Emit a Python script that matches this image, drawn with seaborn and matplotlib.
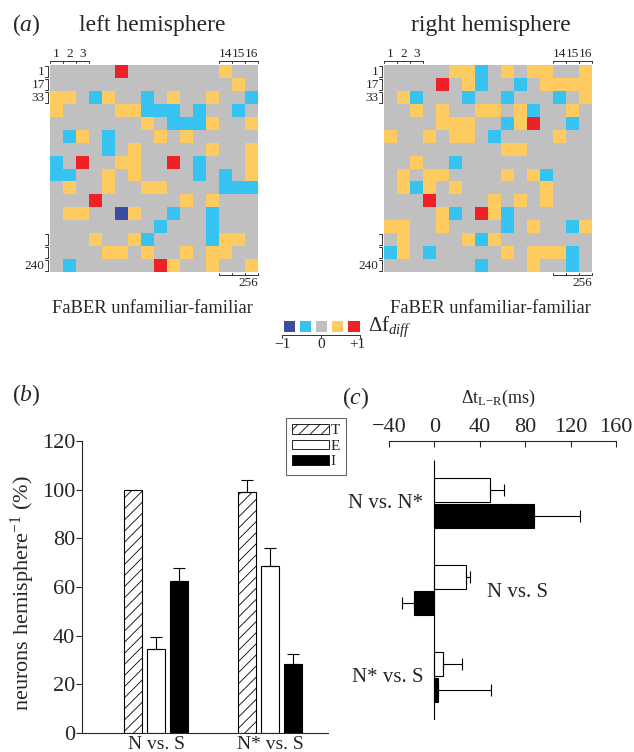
import numpy as np
import pandas as pd
import matplotlib
matplotlib.use('Agg')
import matplotlib.pyplot as plt
from matplotlib.colors import ListedColormap
from matplotlib.patches import Patch
import seaborn as sns

# (a) cell codes: -2 dark blue, -1 light blue, 0 grey, 1 yellow, 2 red
left_grid = [
    [0, 0, 0, 0, 0, 2, 0, 0, 0, 0, 0, 0, 0, 1, 0, 0],
    [0, 0, 0, 0, 0, 0, 0, 0, 0, 0, 0, 0, 0, 0, 1, 0],
    [1, 1, 0, -1, 1, 0, 0, -1, 0, 1, 0, 0, 1, 0, 0, -1],
    [1, 0, 0, 0, 0, 1, 1, -1, -1, -1, 0, -1, 0, 0, -1, 0],
    [0, 0, 0, 0, 0, 0, 0, 1, 0, -1, -1, -1, 1, 0, 0, 1],
    [0, -1, 1, 0, -1, 0, 0, 0, 1, 0, 1, 0, 0, 0, 0, 0],
    [0, 0, 0, 0, -1, 0, 1, 0, 0, 0, 0, 0, 1, 0, 0, 1],
    [-1, 0, 2, 0, 0, 1, 1, 0, 0, 2, 0, -1, 0, 0, 0, 1],
    [-1, -1, 0, 0, 1, 0, 1, 0, 0, 0, 0, -1, 0, -1, 0, 1],
    [0, 1, 0, 0, 1, 0, 0, 1, 1, 0, 0, 0, 0, -1, -1, -1],
    [0, 0, 0, 2, 0, 0, 0, 0, 0, 0, 1, 0, 1, 0, 0, 0],
    [0, 1, 1, 0, 0, -2, 1, 0, 0, -1, 0, 0, -1, 0, 0, 0],
    [0, 0, 0, 0, 0, 0, 0, 0, -1, 0, 0, 0, -1, 0, 0, 0],
    [0, 0, 0, 1, 0, 0, 1, -1, 0, 0, 0, 0, -1, 1, 1, 0],
    [0, 0, 0, 0, 1, 1, 0, 1, 0, 0, 1, 0, 1, 1, 0, 0],
    [0, -1, 0, 0, 0, 0, 0, 0, 2, 1, 0, 0, 1, 0, 0, 1],
]
right_grid = [
    [0, 0, 0, 0, 0, 1, 1, -1, 0, 1, 0, 1, 1, 0, 0, 1],
    [0, 0, 0, 0, 2, 0, 1, -1, 0, 0, -1, 0, 1, 1, 1, 1],
    [0, 1, -1, 0, 0, 0, -1, 0, 0, -1, 0, 0, 0, -1, 0, 1],
    [0, 0, 1, 0, 1, 0, 0, 1, 1, 0, 1, -1, 0, 0, 1, 0],
    [0, 0, 0, 0, 1, 1, 1, 0, 0, -1, 1, 2, 0, 0, -1, 0],
    [1, 0, 0, 1, 0, 1, 1, 0, -1, 0, 0, 0, 0, 1, 0, 0],
    [0, 0, 0, 0, 0, 0, 0, 0, 0, 1, 1, 0, 0, 0, 0, 0],
    [0, 0, 1, 0, 0, -1, 0, 0, 0, 0, 0, 0, 0, 0, 0, 0],
    [0, 1, 0, 1, 1, 0, 0, 0, 0, 1, 0, 1, -1, 0, 0, 0],
    [0, 1, -1, 1, 0, 1, 0, 0, 0, 0, 0, 0, 1, 0, 0, 0],
    [0, 0, 0, 2, 0, 0, 0, 0, 1, 0, 1, 0, 1, 0, 0, 0],
    [0, 0, 0, 0, 1, -1, 0, 2, 1, -1, 0, 0, 0, 0, 0, 0],
    [1, 1, 0, 0, 1, 0, 0, 0, 0, -1, 0, 1, 0, 0, -1, 1],
    [0, 1, 0, 0, 0, 0, 1, -1, 1, 0, 0, 0, 0, 0, 0, 0],
    [-1, 1, 0, -1, 0, 0, 0, 0, 0, 1, 0, 1, 1, 1, -1, 0],
    [0, 0, 0, 0, 0, 0, 0, -1, 0, 0, 0, 1, 0, 0, -1, 0],
]
cell_colors = ['#3a4d9f', '#36c3f1', '#c0c0c0', '#fdcb5f', '#ec2227']
scale_codes = [-2, -1, 0, 1, 2]

# (b) percentage of neurons per hemisphere
comparisons_b = ['N vs. S', 'N* vs. S']
types_b = ['T', 'E', 'I']
pct_T = [100, 99]
pct_E = [34.5, 68.5]
pct_I = [62.5, 28.5]
err_T = [0, 4.8]
err_E = [5, 7.5]
err_I = [5.5, 4]

# (c) left-right time difference (ms)
comparisons_c = ['N vs. N*', 'N vs. S', 'N* vs. S']
dt_E = [49, 27.5, 7.5]
dt_I = [88, -18, 3]
err_dt_E = [12.5, 4, 17]
err_dt_I = [40, 10.5, 47]

sns.set_style('ticks')
plt.rcParams['font.family'] = ['Liberation Serif', 'DejaVu Serif']
plt.rcParams['mathtext.fontset'] = 'custom'
plt.rcParams['mathtext.rm'] = 'Liberation Serif'
plt.rcParams['mathtext.it'] = 'Liberation Serif:italic'
plt.rcParams['hatch.linewidth'] = 0.6

W, H = 634, 752
fig = plt.figure(figsize=(W / 100, H / 100), dpi=100)


def px_axes(x0, y0, x1, y1):
    return fig.add_axes([x0 / W, 1 - y1 / H, (x1 - x0) / W, (y1 - y0) / H])


def ftext(x, y, s, **kw):
    fig.text(x / W, 1 - y / H, s, **kw)


cmap = ListedColormap(cell_colors)


def draw_grid(ax, grid):
    sns.heatmap(np.array(grid), cmap=cmap, vmin=-2.5, vmax=2.5, cbar=False,
                xticklabels=False, yticklabels=False, ax=ax)
    kw = dict(color='0.2', lw=0.7, clip_on=False)
    # column rulers on top
    for c0, labels in [(0, ['1', '2', '3']), (13, ['14', '15', '16'])]:
        ax.plot([c0, c0 + 3], [-0.3, -0.3], **kw)
        for k in range(4):
            ax.plot([c0 + k] * 2, [-0.3, -0.12], **kw)
        for k, lab in enumerate(labels):
            ax.text(c0 + k + 0.5, -0.35, lab, ha='center', va='bottom', fontsize=9.5)
    # row brackets on the left
    for r, lab in [(0, '1'), (1, '17'), (2, '33'), (13, ''), (14, ''), (15, '240')]:
        ax.plot([-0.35, -0.12, -0.12, -0.35], [r + 0.06, r + 0.06, r + 0.94, r + 0.94], **kw)
        ax.text(-0.4, r + 0.55, lab, ha='right', va='center', fontsize=9.5)
    # bottom ruler
    ax.plot([13, 16], [16.25, 16.25], **kw)
    for k in range(4):
        ax.plot([13 + k] * 2, [16.07, 16.25], **kw)
    ax.text(16.05, 16.4, '256', ha='right', va='top', fontsize=9.5)


ax_l = px_axes(50, 65, 258, 272)
draw_grid(ax_l, left_grid)
ax_r = px_axes(384, 65, 592, 272)
draw_grid(ax_r, right_grid)

ftext(12, 25, r'($a$)', fontsize=17, va='center', ha='left')
ftext(152, 25, 'left hemisphere', fontsize=17, va='center', ha='center')
ftext(491, 25, 'right hemisphere', fontsize=17, va='center', ha='center')
ftext(152, 309, 'FaBER unfamiliar-familiar', fontsize=13.3, va='center', ha='center')
ftext(490, 309, 'FaBER unfamiliar-familiar', fontsize=13.3, va='center', ha='center')

# colour scale
ax_s = px_axes(280.5, 317.5, 361.5, 333.5)
sns.heatmap(np.array([scale_codes]), cmap=cmap, vmin=-2.5, vmax=2.5, cbar=False,
            xticklabels=False, yticklabels=False, linewidths=2.2, linecolor='white', ax=ax_s)
kw = dict(color='0.2', lw=0.7, clip_on=False)
ax_s.plot([0.1, 4.9], [1.08, 1.08], **kw)
for xx in [0.1, 2.5, 4.9]:
    ax_s.plot([xx, xx], [1.08, 1.3], **kw)
ax_s.text(0.1, 1.3, '\u22121', ha='center', va='top', fontsize=11)
ax_s.text(2.5, 1.3, '0', ha='center', va='top', fontsize=11)
ax_s.text(4.75, 1.3, '+1', ha='center', va='top', fontsize=11)
ftext(368, 327, r'$\Delta\mathrm{f}_{diff}$', fontsize=15, va='center', ha='left')

# (b)
ax_b = px_axes(82, 441, 328, 733)
df_b = pd.DataFrame({'comparison': comparisons_b * 3,
                     'type': np.repeat(types_b, 2),
                     'pct': pct_T + pct_E + pct_I})
sns.barplot(df_b, x='comparison', y='pct', hue='type', hue_order=types_b,
            order=comparisons_b, palette=['white', 'white', 'black'],
            edgecolor='black', linewidth=0.8, width=0.6, gap=0.21,
            legend=False, ax=ax_b)
for bar in ax_b.containers[0]:
    bar.set_hatch('///')
for cont, errs in zip(ax_b.containers, [err_T, err_E, err_I]):
    for bar, e in zip(cont, errs):
        if e > 0:
            ax_b.errorbar(bar.get_x() + bar.get_width() / 2, bar.get_height(),
                          yerr=[[0], [e]], fmt='none', ecolor='black',
                          elinewidth=0.8, capsize=4, capthick=0.8)
ax_b.set_xlim(-0.65, 1.51)
ax_b.set_ylim(0, 120)
ax_b.set_yticks(range(0, 121, 20))
sns.despine(ax=ax_b)
ax_b.tick_params(axis='y', labelsize=16, length=4, width=0.8, pad=1)
ax_b.tick_params(axis='x', labelsize=14, length=0, pad=2)
ax_b.set_xlabel('')
ax_b.set_ylabel('neurons hemisphere$^{-1}$ (%)', fontsize=16)
ax_b.yaxis.set_label_coords(-0.183, 0.48)
for sp in ax_b.spines.values():
    sp.set_linewidth(0.8)

handles = [Patch(facecolor='white', edgecolor='black', hatch='///', lw=0.6),
           Patch(facecolor='white', edgecolor='black', lw=0.6),
           Patch(facecolor='black', edgecolor='black', lw=0.6)]
leg = fig.legend(handles, types_b, loc='upper right',
                 bbox_to_anchor=(346 / W, 1 - 418 / H), fontsize=11,
                 fancybox=False, edgecolor='0.4', framealpha=1,
                 borderpad=0.4, labelspacing=0.15, handlelength=2.4,
                 handleheight=0.6, handletextpad=0.1, borderaxespad=0)
leg.get_frame().set_linewidth(0.8)
ftext(12, 395, r'($b$)', fontsize=17, va='center', ha='left')

# (c)
ax_c = px_axes(389, 441, 616, 720)
df_c = pd.DataFrame({'comparison': comparisons_c * 2,
                     'type': np.repeat(['E', 'I'], 3),
                     'dt': dt_E + dt_I})
sns.barplot(df_c, y='comparison', x='dt', hue='type', order=comparisons_c,
            orient='h', palette=['white', 'black'], edgecolor='black',
            linewidth=0.8, width=0.6, gap=0.08, legend=False, ax=ax_c)
for cont, errs in zip(ax_c.containers, [err_dt_E, err_dt_I]):
    for bar, e in zip(cont, errs):
        w = bar.get_width()
        xerr = [[0], [e]] if w >= 0 else [[e], [0]]
        ax_c.errorbar(bar.get_x() + w, bar.get_y() + bar.get_height() / 2,
                      xerr=xerr, fmt='none', ecolor='black', elinewidth=0.8,
                      capsize=4, capthick=0.8)
ax_c.vlines(0, -0.494, 2.494, color='black', lw=0.8)
ax_c.set_xlim(-40, 160)
ax_c.set_ylim(2.494, -0.713)
ax_c.set_yticks([])
ax_c.set_ylabel('')
ax_c.set_xticks([-40, 0, 40, 80, 120, 160])
ax_c.xaxis.tick_top()
ax_c.xaxis.set_label_position('top')
ax_c.tick_params(axis='x', labelsize=16, direction='in', length=4, width=0.8, pad=3)
for side in ['left', 'right', 'bottom']:
    ax_c.spines[side].set_visible(False)
ax_c.spines['top'].set_linewidth(0.8)
ax_c.set_xlabel(r'$\Delta\mathrm{t}_{\mathrm{L{-}R}}\mathrm{(ms)}$', fontsize=13)
ax_c.xaxis.set_label_coords(0.48, 1.136)
ax_c.text(-10, 0, 'N vs. N*', ha='right', va='center', fontsize=15)
ax_c.text(46, 1.03, 'N vs. S', ha='left', va='center', fontsize=15)
ax_c.text(-10, 2, 'N* vs. S', ha='right', va='center', fontsize=15)
ftext(342, 398, r'($c$)', fontsize=17, va='center', ha='left')

fig.savefig('out.png', dpi=100)
